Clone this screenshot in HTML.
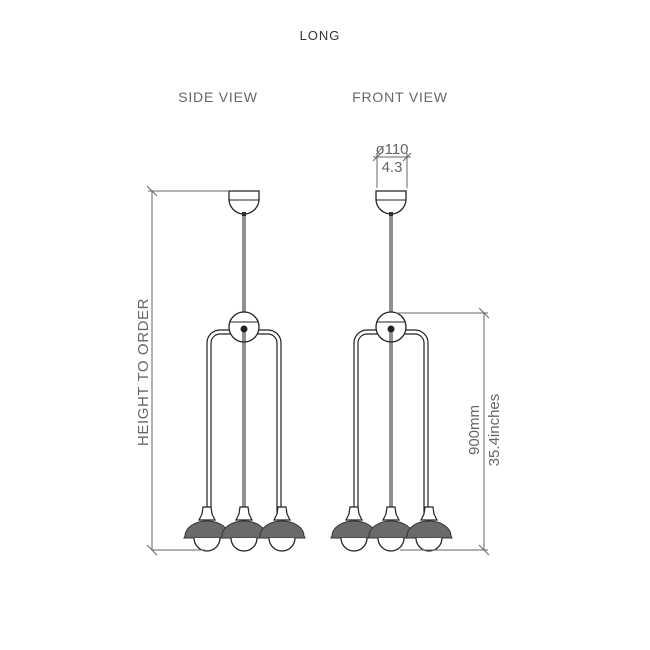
<!DOCTYPE html>
<html><head><meta charset="utf-8"><style>html,body{margin:0;background:#fff}svg{display:block}</style></head><body>
<svg width="650" height="650" viewBox="0 0 650 650" xmlns="http://www.w3.org/2000/svg" font-family="Liberation Sans, sans-serif">
<defs>
<g id="shade">
  <path d="M-4,-31 L4,-31 L5,-24 L8,-18 L-8,-18 L-5,-24 Z" fill="#fff" stroke="#222" stroke-width="1.2"/>
  <path d="M-22,-2 A22,15 0 0 1 22,-2 L23,0 L-23,0 Z" fill="#6a6a6a" stroke="#333" stroke-width="1"/>
  <path d="M-13,0 A13,13 0 0 0 13,0" fill="#fff" stroke="#222" stroke-width="1.3"/>
</g>
<g id="lamp">
  <path d="M-15,0 L15,0 L15,8 A15,15 0 0 1 -15,8 Z" fill="#fff" stroke="#222" stroke-width="1.3"/>
  <line x1="-15" y1="9" x2="15" y2="9" stroke="#222" stroke-width="1"/>
  <rect x="-2" y="21" width="4" height="4" fill="#333"/>
  <line x1="-1" y1="24" x2="-1" y2="121" stroke="#222" stroke-width="1"/>
  <line x1="1" y1="24" x2="1" y2="121" stroke="#222" stroke-width="1"/>
  <path d="M-14,139 L-24,139 A13,13 0 0 0 -37,152 L-37,325" fill="none" stroke="#222" stroke-width="1.2"/>
  <path d="M-14,143 L-24,143 A9,9 0 0 0 -33,152 L-33,325" fill="none" stroke="#222" stroke-width="1.2"/>
  <path d="M14,139 L24,139 A13,13 0 0 1 37,152 L37,325" fill="none" stroke="#222" stroke-width="1.2"/>
  <path d="M14,143 L24,143 A9,9 0 0 1 33,152 L33,325" fill="none" stroke="#222" stroke-width="1.2"/>
  <line x1="-1" y1="136" x2="-1" y2="325" stroke="#222" stroke-width="1"/>
  <line x1="1" y1="136" x2="1" y2="325" stroke="#222" stroke-width="1"/>
  <circle cx="0" cy="136" r="15" fill="#fff" stroke="#222" stroke-width="1.3"/>
  <line x1="-14" y1="131" x2="14" y2="131" stroke="#222" stroke-width="1"/>
  <circle cx="0" cy="138" r="3.5" fill="#222"/>
  <line x1="-1" y1="141" x2="-1" y2="152" stroke="#222"/><line x1="1" y1="141" x2="1" y2="152" stroke="#222"/>
  <use href="#shade" x="-37" y="347"/>
  <use href="#shade" x="0" y="347"/>
  <use href="#shade" x="38" y="347"/>
</g>
</defs>
<g font-size="14" text-anchor="middle" letter-spacing="0.8">
<text x="320" y="40" font-size="13" fill="#333" letter-spacing="1">LONG</text>
<text x="218" y="102" fill="#666">SIDE VIEW</text>
<text x="400" y="102" fill="#666">FRONT VIEW</text>
</g>
<use href="#lamp" x="244" y="191"/>
<use href="#lamp" x="391" y="191"/>
<g stroke="#666" stroke-width="1" fill="none">
<line x1="152" y1="191" x2="152" y2="550"/>
<line x1="147" y1="186" x2="157" y2="196"/>
<line x1="147" y1="545" x2="157" y2="555"/>
<line x1="148" y1="191" x2="228" y2="191"/>
<line x1="152" y1="550" x2="205" y2="550"/>
<line x1="484" y1="313" x2="484" y2="550"/>
<line x1="479" y1="308" x2="489" y2="318"/>
<line x1="479" y1="545" x2="489" y2="555"/>
<line x1="396" y1="313" x2="488" y2="313"/>
<line x1="400" y1="550" x2="488" y2="550"/>
<line x1="377" y1="153" x2="377" y2="188"/>
<line x1="407" y1="153" x2="407" y2="188"/>
<line x1="373" y1="157" x2="411" y2="157"/>
<line x1="373" y1="161" x2="381" y2="153"/>
<line x1="403" y1="161" x2="411" y2="153"/>
</g>
<g fill="#666" font-size="15" text-anchor="middle">
<text x="392" y="154">ø110</text>
<text x="392" y="172">4.3</text>
<text transform="translate(148,372) rotate(-90)" letter-spacing="0.6">HEIGHT  TO  ORDER</text>
<text transform="translate(479,430) rotate(-90)">900mm</text>
<text transform="translate(499,430) rotate(-90)">35.4inches</text>
</g>
</svg>
</body></html>
